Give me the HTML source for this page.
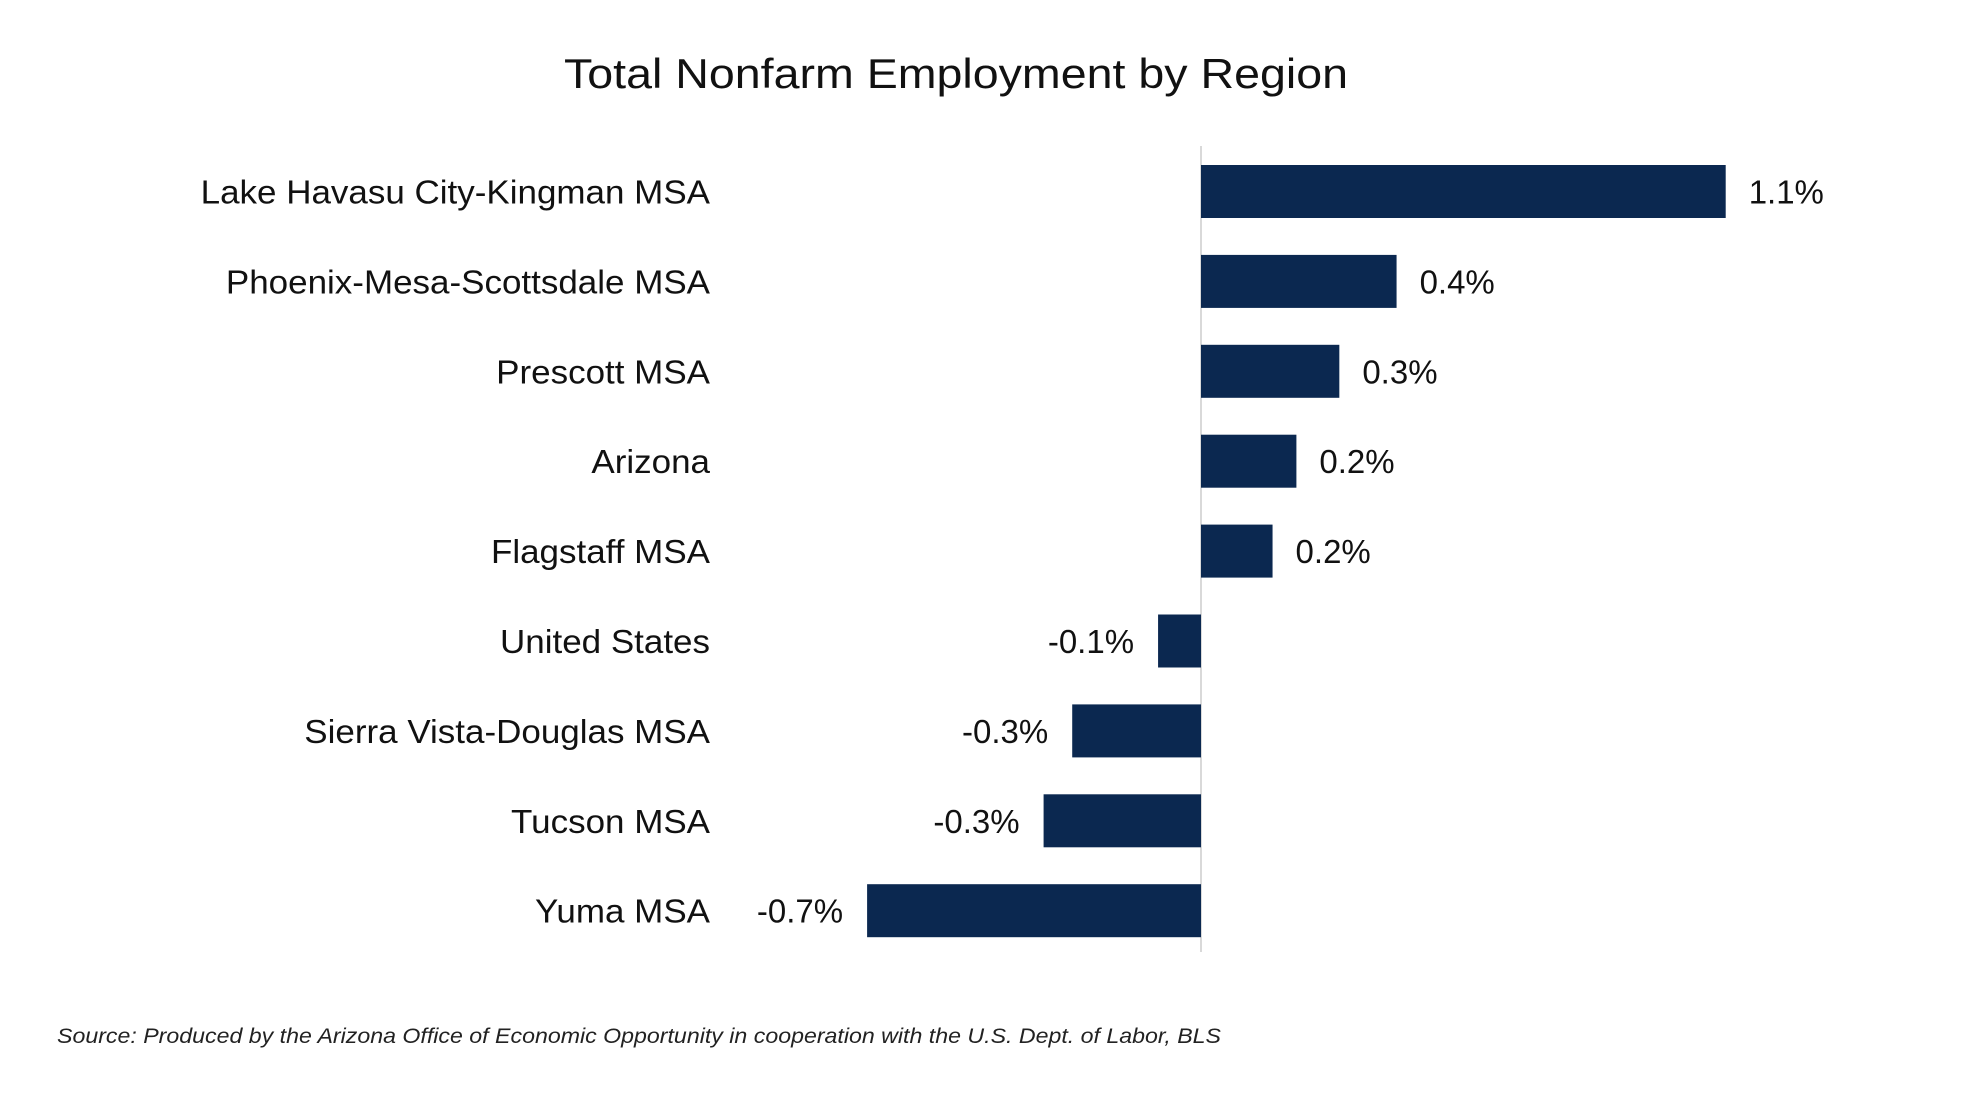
<!DOCTYPE html>
<html><head><meta charset="utf-8"><style>
html,body{margin:0;padding:0;background:#fff;}
svg{display:block;font-family:"Liberation Sans",Arial,sans-serif;}
</style></head><body>
<svg id="chart" width="1988" height="1093">
<text x="956" y="88" text-anchor="middle" font-size="42" fill="#111" textLength="784" lengthAdjust="spacingAndGlyphs">Total Nonfarm Employment by Region</text>
<line x1="1201" y1="146" x2="1201" y2="952" stroke="#d9d9d9" stroke-width="2"/>
<g id="bars"></g>
<text x="57" y="1043" font-size="21" font-style="italic" fill="#222" textLength="1164" lengthAdjust="spacingAndGlyphs">Source: Produced by the Arizona  Office of Economic  Opportunity in cooperation  with the U.S. Dept.  of Labor, BLS</text>
</svg>
<script>
const categories = ["Lake Havasu City-Kingman MSA","Phoenix-Mesa-Scottsdale MSA","Prescott MSA","Arizona","Flagstaff MSA","United States","Sierra Vista-Douglas MSA","Tucson MSA","Yuma MSA"];
const values = [1.1,0.41,0.29,0.2,0.15,-0.09,-0.27,-0.33,-0.7];
const valueLabels = ["1.1%","0.4%","0.3%","0.2%","0.2%","-0.1%","-0.3%","-0.3%","-0.7%"];
const x0 = 1201, pxPer = 477;
function xScale(v){return x0 + v*pxPer;}
function yCenter(i){return 191.5 + i*89.9;}
const g = document.getElementById('bars');
const NS = "http://www.w3.org/2000/svg";
categories.forEach((c,i)=>{
  const v = values[i], yc = yCenter(i);
  const r = document.createElementNS(NS,'rect');
  const xa = Math.min(xScale(0), xScale(v)), w = Math.abs(xScale(v)-xScale(0));
  r.setAttribute('x', xa); r.setAttribute('y', yc-26.5);
  r.setAttribute('width', w); r.setAttribute('height', 53);
  r.setAttribute('fill', '#0b2850');
  
  
  g.appendChild(r);
  const t = document.createElementNS(NS,'text');
  t.setAttribute('x', 710); t.setAttribute('y', yc+12);
  t.setAttribute('text-anchor','end'); t.setAttribute('font-size','33'); t.setAttribute('fill','#111');
  t.textContent = c;
  
  
  g.appendChild(t);
  t.setAttribute('textLength', t.getComputedTextLength()*1.06);
  t.setAttribute('lengthAdjust','spacingAndGlyphs');
  const vl = document.createElementNS(NS,'text');
  if (v >= 0) { vl.setAttribute('x', xScale(v)+23); vl.setAttribute('text-anchor','start'); }
  else { vl.setAttribute('x', xScale(v)-24); vl.setAttribute('text-anchor','end'); }
  vl.setAttribute('y', yc+12); vl.setAttribute('font-size','33'); vl.setAttribute('fill','#111');
  vl.textContent = valueLabels[i];
  
  
  g.appendChild(vl);
});
</script>
</body></html>
